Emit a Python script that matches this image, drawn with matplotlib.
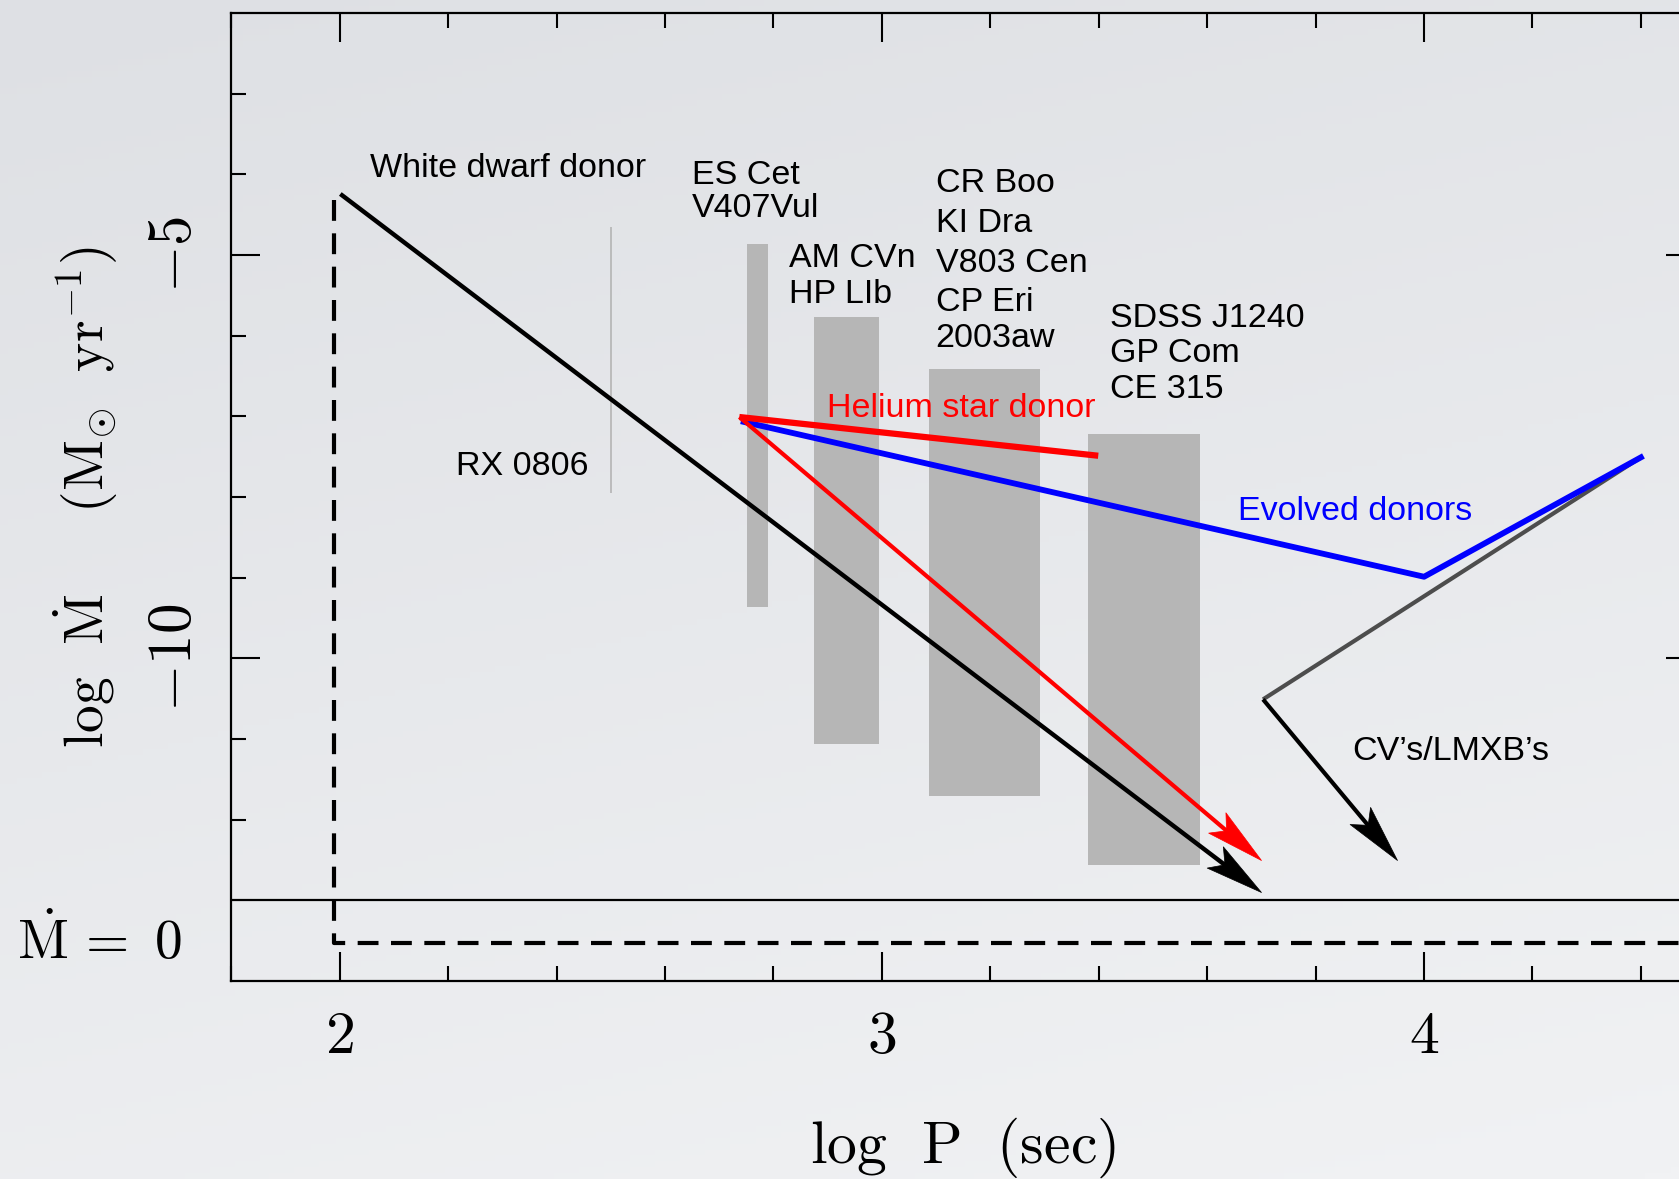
import numpy as np
import matplotlib
matplotlib.use("Agg")
import matplotlib.pyplot as plt
from matplotlib.colors import LinearSegmentedColormap
from matplotlib.markers import MarkerStyle
from matplotlib.path import Path
from matplotlib.ticker import FixedLocator, MultipleLocator
from matplotlib.transforms import Affine2D

plt.rcParams["mathtext.fontset"] = "cm"
plt.rcParams["font.family"] = ["Liberation Sans", "DejaVu Sans"]

# observed ranges of the AM CVn systems (log P in sec, log Mdot)
bar_logp_lo = [2.752, 2.874, 3.086, 3.381]
bar_logp_hi = [2.790, 2.995, 3.292, 3.587]
bar_mdot_lo = [-9.37, -11.06, -11.71, -12.56]
bar_mdot_hi = [-4.87, -5.77, -6.42, -7.22]

rx0806_logp = 2.50
rx0806_mdot = [-7.95, -4.65]

# evolution tracks
wd_logp = [2.001, 3.699]
wd_mdot = [-4.245, -12.90]

he_logp = [2.737, 3.399]
he_mdot = [-7.01, -7.49]
he_arrow_logp = [2.737, 3.699]
he_arrow_mdot = [-7.01, -12.50]

evolved_logp = [2.745, 4.00, 4.40]
evolved_mdot = [-7.07, -8.99, -7.51]

cv_logp = [4.40, 3.703]
cv_mdot = [-7.51, -10.51]
cv_arrow_logp = [3.703, 3.950]
cv_arrow_mdot = [-10.51, -12.50]

# Mdot = 0 branch
zero_logp = [1.99, 1.99, 4.5]
zero_mdot = [-4.32, -13.53, -13.53]
zero_level = -13.0

labels = [
    ("White dwarf donor", 2.056, -4.04, "black"),
    ("ES Cet", 2.650, -4.117, "black"),
    ("V407Vul", 2.650, -4.53, "black"),
    ("AM CVn", 2.828, -5.146, "black"),
    ("HP LIb", 2.828, -5.596, "black"),
    ("CR Boo", 3.099, -4.221, "black"),
    ("KI Dra", 3.099, -4.719, "black"),
    ("V803 Cen", 3.099, -5.217, "black"),
    ("CP Eri", 3.099, -5.69, "black"),
    ("2003aw", 3.099, -6.141, "black"),
    ("SDSS J1240", 3.421, -5.89, "black"),
    ("GP Com", 3.421, -6.33, "black"),
    ("CE 315", 3.421, -6.78, "black"),
    ("RX 0806", 2.215, -7.73, "black"),
    ("Helium star donor", 2.898, -7.01, "#ff0000"),
    ("Evolved donors", 3.657, -8.284, "#0000ff"),
    ("CV\u2019s/LMXB\u2019s", 3.868, -11.257, "black"),
]

fig = plt.figure(figsize=(16.79, 11.79), dpi=100)

# slide-like soft gradient behind the plot
bg = fig.add_axes([0, 0, 1, 1], zorder=-10)
yy, xx = np.mgrid[0:1:200j, 0:1:200j]
bg.imshow(0.75 * yy + 0.25 * xx, aspect="auto", extent=[0, 1, 0, 1], origin="upper",
          cmap=LinearSegmentedColormap.from_list("bg", ["#dee0e4", "#f1f2f4"]))
bg.axis("off")

ax = fig.add_axes([0.1378, 0.168, 0.8718, 0.8211])
ax.set_facecolor("none")
ax.set_xlim(1.8, 4.5)
ax.set_ylim(-14, -2)

ax.bar(bar_logp_lo, np.subtract(bar_mdot_hi, bar_mdot_lo),
       width=np.subtract(bar_logp_hi, bar_logp_lo), bottom=bar_mdot_lo,
       align="edge", color="#b6b6b6", zorder=1)
ax.vlines(rx0806_logp, *rx0806_mdot, color="#b4b4b4", lw=1.2, zorder=1)

ax.plot(zero_logp, zero_mdot, color="black", lw=3, ls=(0, (5, 3)), zorder=2)
ax.axhline(zero_level, color="black", lw=1.6, zorder=2)

ax.plot(cv_logp, cv_mdot, color="#4d4d4d", lw=3, zorder=3, solid_capstyle="butt")
ax.plot(evolved_logp, evolved_mdot, color="#0000ff", lw=4.2, zorder=4)
ax.plot(he_logp, he_mdot, color="#ff0000", lw=4.5, zorder=4, solid_capstyle="butt")

# barbed arrow head, tip at the origin pointing along +x
HEAD = Path([(0, 0), (-1, 0.23), (-0.79, 0), (-1, -0.23), (0, 0)],
            [Path.MOVETO, Path.LINETO, Path.LINETO, Path.LINETO, Path.CLOSEPOLY])


def arrow(xs, ys, color, lw, head_px=58):
    p0, p1 = ax.transData.transform([(xs[0], ys[0]), (xs[1], ys[1])])
    d = p1 - p0
    ang = np.degrees(np.arctan2(d[1], d[0]))
    end = ax.transData.inverted().transform(p1 - d / np.hypot(*d) * 0.7 * head_px)
    ax.plot([xs[0], end[0]], [ys[0], end[1]], color=color, lw=lw,
            solid_capstyle="butt", zorder=5)
    ax.plot(xs[1], ys[1], ls="none", zorder=6,
            marker=MarkerStyle(HEAD, transform=Affine2D().rotate_deg(ang)),
            ms=2 * head_px * 0.72, mfc=color, mec=color, mew=0.5)


arrow(wd_logp, wd_mdot, "black", 3.2)
arrow(he_arrow_logp, he_arrow_mdot, "#ff0000", 3)
arrow(cv_arrow_logp, cv_arrow_mdot, "black", 3)

for text, x, y, c in labels:
    ax.text(x, y, text, color=c, fontsize=24.5, ha="left", va="baseline", zorder=7)

ax.set_xticks([2, 3, 4], labels=["$2$", "$3$", "$4$"], fontsize=43)
ax.xaxis.set_minor_locator(MultipleLocator(0.2))
ax.set_yticks([-10, -5], labels=["$-10$", "$-5$"], fontsize=44, rotation=90, va="center")
ax.yaxis.set_minor_locator(FixedLocator([-12, -11, -9, -8, -7, -6, -4, -3]))
ax.tick_params(which="both", direction="in", top=True, right=True, width=1.5, color="black")
ax.tick_params(which="major", length=21)
ax.tick_params(which="minor", length=10.5)
ax.tick_params(axis="x", which="major", pad=21)
ax.tick_params(axis="y", which="major", pad=20)
for s in ax.spines.values():
    s.set_linewidth(1.6)

ax.text(0.5, -0.1725, r"$\mathrm{log}\ \ \mathrm{P}\ \ (\mathrm{sec})$", transform=ax.transAxes,
        fontsize=43, ha="center", va="center")
ax.text(-0.0997, 0.5,
        r"$\mathrm{log}\ \ \dot{\mathrm{M}}\quad\ \ (\mathrm{M}_{\odot}\ \ \mathrm{yr}^{-1})$",
        transform=ax.transAxes, fontsize=40, rotation=90, ha="center", va="center")
ax.text(-0.1462, zero_mdot[-1], r"$\dot{\mathrm{M}}\,=\ 0$", transform=ax.get_yaxis_transform(),
        fontsize=40, ha="left", va="center")

fig.savefig("out.png", dpi=100)
